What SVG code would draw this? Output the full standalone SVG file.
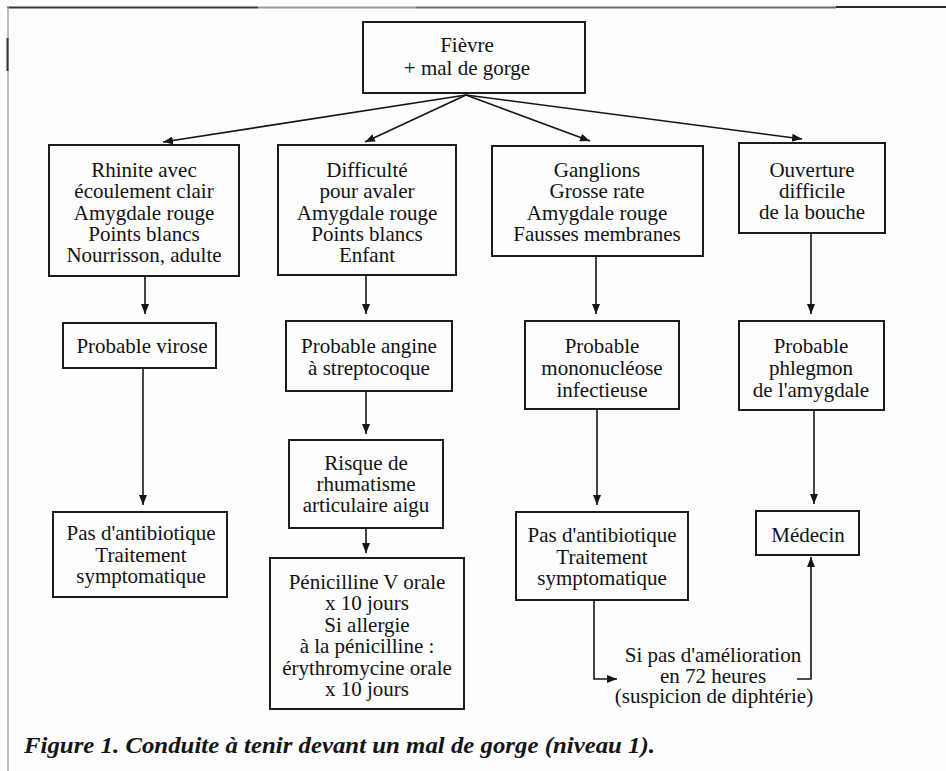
<svg xmlns="http://www.w3.org/2000/svg" width="946" height="771" viewBox="0 0 946 771">
  <defs>
    <marker id="arrow" viewBox="0 0 10 8" refX="10" refY="4" markerWidth="10" markerHeight="8" markerUnits="userSpaceOnUse" orient="auto">
      <path d="M0,0 L10,4 L0,8 z" fill="#151515"/>
    </marker>
    <style>
      .box { fill: none; stroke: #1c1c1c; stroke-width: 2; }
      .lbl { font-family: "Liberation Serif", "Times New Roman", serif; font-size: 21px; fill: #121212; text-anchor: middle; }
      .edge { fill: none; stroke: #151515; stroke-width: 1.6; marker-end: url(#arrow); }
      .cap { font-family: "Liberation Serif", "Times New Roman", serif; font-size: 23px; font-style: italic; font-weight: bold; fill: #151515; }
    </style>
  </defs>

  <rect x="0" y="0" width="946" height="771" fill="#fdfdfd"/>

  <!-- page frame -->
  <g id="frame">
    <line x1="7" y1="7.5" x2="258" y2="7.5" stroke="#3a3a3a" stroke-width="2"/>
    <line x1="258" y1="7.5" x2="416" y2="7.5" stroke="#9a9a9a" stroke-width="2"/>
    <line x1="416" y1="7.5" x2="836" y2="7.5" stroke="#6a6a6a" stroke-width="2"/>
    <line x1="836" y1="7" x2="946" y2="7" stroke="#2a2a2a" stroke-width="2"/>
    <line x1="8" y1="7" x2="8" y2="771" stroke="#a8a8a8" stroke-width="1.5"/>
    <line x1="7.5" y1="38" x2="7.5" y2="71" stroke="#333" stroke-width="2"/>
  </g>

  <!-- connectors -->
  <g id="connectors">
    <line class="edge" x1="466" y1="95" x2="163" y2="142"/>
    <line class="edge" x1="466" y1="95" x2="365" y2="142"/>
    <line class="edge" x1="466" y1="95" x2="590" y2="141"/>
    <line class="edge" x1="466" y1="95" x2="802" y2="139"/>
    <line class="edge" x1="145" y1="276" x2="145" y2="314"/>
    <line class="edge" x1="366" y1="275" x2="366" y2="314"/>
    <line class="edge" x1="596" y1="256" x2="596" y2="314"/>
    <line class="edge" x1="811" y1="233" x2="811" y2="314"/>
    <line class="edge" x1="143" y1="368" x2="143" y2="505"/>
    <line class="edge" x1="366" y1="391" x2="366" y2="434"/>
    <line class="edge" x1="597" y1="409" x2="597" y2="505"/>
    <line class="edge" x1="814" y1="410" x2="814" y2="504"/>
    <line class="edge" x1="366" y1="528" x2="366" y2="553"/>
    <polyline class="edge" points="594,600 594,679 617,679"/>
    <polyline class="edge" points="797,679 811,679 811,557"/>
  </g>

  <g id="n-fievre">
    <rect class="box" x="363" y="22" width="222" height="71"/>
    <text class="lbl" x="467" y="52">Fièvre</text>
    <text class="lbl" x="467" y="75">+ mal de gorge</text>
  </g>

  <g id="n-rhinite">
    <rect class="box" x="49" y="145" width="190" height="131"/>
    <text class="lbl" x="144" y="177">Rhinite avec</text>
    <text class="lbl" x="144" y="198">écoulement clair</text>
    <text class="lbl" x="144" y="220">Amygdale rouge</text>
    <text class="lbl" x="144" y="241">Points blancs</text>
    <text class="lbl" x="144" y="262">Nourrisson, adulte</text>
  </g>

  <g id="n-difficulte">
    <rect class="box" x="278" y="145" width="178" height="130"/>
    <text class="lbl" x="367" y="177">Difficulté</text>
    <text class="lbl" x="367" y="198">pour avaler</text>
    <text class="lbl" x="367" y="220">Amygdale rouge</text>
    <text class="lbl" x="367" y="241">Points blancs</text>
    <text class="lbl" x="367" y="262">Enfant</text>
  </g>

  <g id="n-ganglions">
    <rect class="box" x="492" y="146" width="211" height="110"/>
    <text class="lbl" x="597" y="177">Ganglions</text>
    <text class="lbl" x="597" y="198">Grosse rate</text>
    <text class="lbl" x="597" y="220">Amygdale rouge</text>
    <text class="lbl" x="597" y="241">Fausses membranes</text>
  </g>

  <g id="n-ouverture">
    <rect class="box" x="739" y="143" width="146" height="90"/>
    <text class="lbl" x="812" y="177">Ouverture</text>
    <text class="lbl" x="812" y="198">difficile</text>
    <text class="lbl" x="812" y="219">de la bouche</text>
  </g>

  <g id="n-virose">
    <rect class="box" x="63" y="323" width="153" height="45"/>
    <text class="lbl" x="142" y="353">Probable virose</text>
  </g>

  <g id="n-angine">
    <rect class="box" x="286" y="321" width="166" height="70"/>
    <text class="lbl" x="369" y="353">Probable angine</text>
    <text class="lbl" x="369" y="375">à streptocoque</text>
  </g>

  <g id="n-mononucleose">
    <rect class="box" x="525" y="321" width="154" height="88"/>
    <text class="lbl" x="602" y="353">Probable</text>
    <text class="lbl" x="602" y="375">mononucléose</text>
    <text class="lbl" x="602" y="397">infectieuse</text>
  </g>

  <g id="n-phlegmon">
    <rect class="box" x="739" y="321" width="145" height="89"/>
    <text class="lbl" x="811" y="353">Probable</text>
    <text class="lbl" x="811" y="375">phlegmon</text>
    <text class="lbl" x="811" y="397">de l'amygdale</text>
  </g>

  <g id="n-risque">
    <rect class="box" x="289" y="440" width="154" height="88"/>
    <text class="lbl" x="366" y="470">Risque de</text>
    <text class="lbl" x="366" y="491">rhumatisme</text>
    <text class="lbl" x="366" y="512">articulaire aigu</text>
  </g>

  <g id="n-pas-virose">
    <rect class="box" x="53" y="512" width="174" height="85"/>
    <text class="lbl" x="141" y="540">Pas d'antibiotique</text>
    <text class="lbl" x="141" y="562">Traitement</text>
    <text class="lbl" x="141" y="583">symptomatique</text>
  </g>

  <g id="n-penicilline">
    <rect class="box" x="270" y="558" width="194" height="151"/>
    <text class="lbl" x="367" y="589">Pénicilline V orale</text>
    <text class="lbl" x="367" y="610">x 10 jours</text>
    <text class="lbl" x="367" y="632">Si allergie</text>
    <text class="lbl" x="367" y="653">à la pénicilline :</text>
    <text class="lbl" x="367" y="675">érythromycine orale</text>
    <text class="lbl" x="367" y="696">x 10 jours</text>
  </g>

  <g id="n-pas-mono">
    <rect class="box" x="516" y="512" width="172" height="88"/>
    <text class="lbl" x="602" y="542">Pas d'antibiotique</text>
    <text class="lbl" x="602" y="564">Traitement</text>
    <text class="lbl" x="602" y="585">symptomatique</text>
  </g>

  <g id="n-medecin">
    <rect class="box" x="756" y="511" width="103" height="44"/>
    <text class="lbl" x="808" y="542">Médecin</text>
  </g>

  <g id="n-condition">
    <text class="lbl" x="713" y="662">Si pas d'amélioration</text>
    <text class="lbl" x="713" y="683">en 72 heures</text>
    <text class="lbl" x="714" y="703">(suspicion de diphtérie)</text>
  </g>

  <text class="cap" x="24" y="753" textLength="631" lengthAdjust="spacingAndGlyphs">Figure 1. Conduite à tenir devant un mal de gorge (niveau 1).</text>
</svg>
